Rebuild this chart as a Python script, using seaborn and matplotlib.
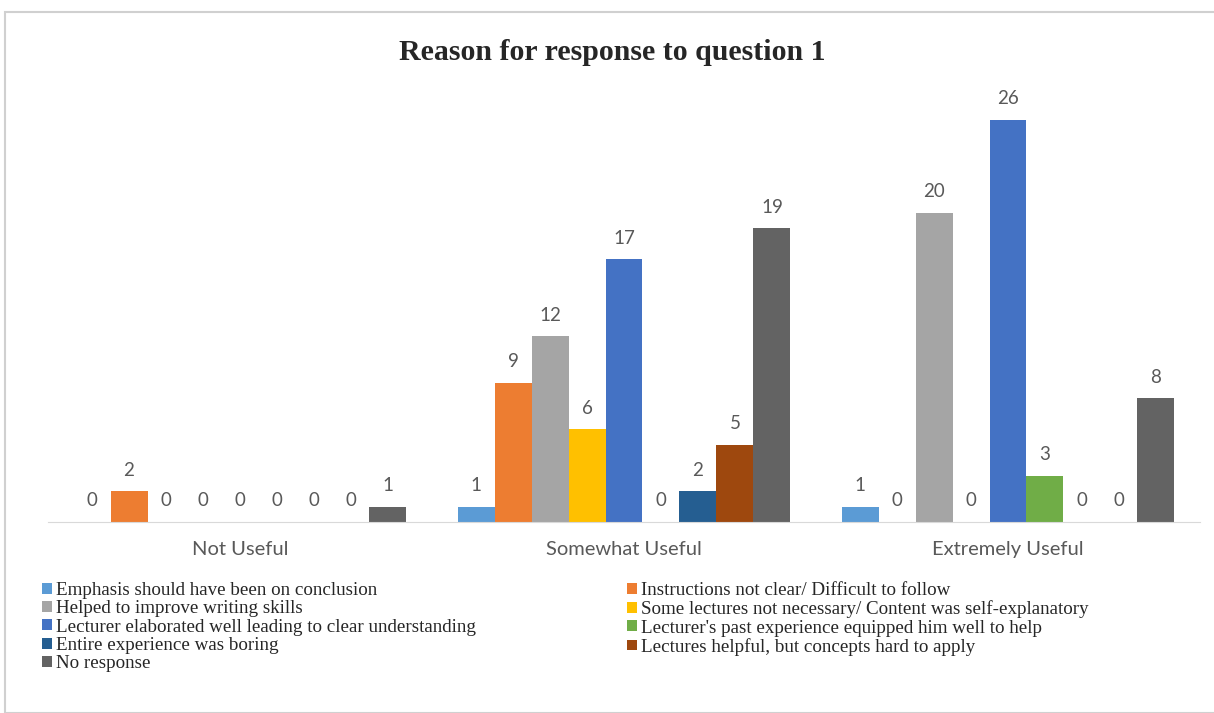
import matplotlib
matplotlib.use("Agg")
import matplotlib.pyplot as plt
import seaborn as sns
import pandas as pd
from matplotlib.patches import Patch, Rectangle

categories = ["Not Useful", "Somewhat Useful", "Extremely Useful"]
reasons = [
    "Emphasis should have been on conclusion",
    "Instructions not clear/ Difficult to follow",
    "Helped to improve writing skills",
    "Some lectures not necessary/ Content was self-explanatory",
    "Lecturer elaborated well leading to clear understanding",
    "Lecturer's past experience equipped him well to help",
    "Entire experience was boring",
    "Lectures helpful, but concepts hard to apply",
    "No response",
]
not_useful = [0, 2, 0, 0, 0, 0, 0, 0, 1]
somewhat_useful = [1, 9, 12, 6, 17, 0, 2, 5, 19]
extremely_useful = [1, 0, 20, 0, 26, 3, 0, 0, 8]
colors = ["#5B9BD5", "#ED7D31", "#A5A5A5", "#FFC000", "#4472C4",
          "#70AD47", "#255E91", "#9E480E", "#636363"]

rows = []
for cat, vals in zip(categories, [not_useful, somewhat_useful, extremely_useful]):
    for r, v in zip(reasons, vals):
        rows.append({"cat": cat, "reason": r, "value": v})
df = pd.DataFrame(rows)

sns.set_style("white")
fig = plt.figure(figsize=(12.14, 7.13), dpi=100)
fig.patches.append(Rectangle((5 / 1214, 0), 1.0, 1 - 12 / 713, transform=fig.transFigure,
                             fill=False, edgecolor="#D0D0D0", linewidth=1.5))
ax = fig.add_axes([48 / 1214, 191 / 713, 1152 / 1214, 433 / 713])
sns.barplot(data=df, x="cat", y="value", hue="reason", hue_order=reasons,
            order=categories, palette=colors, saturation=1, width=0.867,
            linewidth=0, ax=ax, legend=False)
ax.set_ylim(0, 28)
ax.set_xlim(-0.5, 2.5)
label_font = "Lato"
for cont in ax.containers:
    ax.bar_label(cont, padding=9, color="#595959", fontsize=13.5, family=label_font)
for s in ["top", "left", "right"]:
    ax.spines[s].set_visible(False)
ax.spines["bottom"].set_color("#D9D9D9")
ax.set_yticks([])
ax.set_xlabel("")
ax.set_ylabel("")
ax.tick_params(axis="x", length=0, pad=14, labelsize=14.5, labelcolor="#595959")
for t in ax.get_xticklabels():
    t.set_family(label_font)

fig.text(612 / 1214, 1 - 52 / 713, "Reason for response to question 1", ha="center", va="center",
         family="Liberation Serif", fontweight="bold", fontsize=21.5)

handles = [Patch(facecolor=c, edgecolor="none") for c in colors]
left_idx = [0, 2, 4, 6, 8]
right_idx = [1, 3, 5, 7]
common = dict(frameon=False, prop={"family": "Liberation Serif", "size": 13.7},
              handlelength=0.5, handleheight=0.5, handletextpad=0.25,
              labelspacing=0.07, borderaxespad=0, borderpad=0)
leg1 = fig.legend([handles[i] for i in left_idx], [reasons[i] for i in left_idx],
                  loc="upper left", bbox_to_anchor=(42 / 1214, 1 - 582 / 713), **common)
leg2 = fig.legend([handles[i] for i in right_idx], [reasons[i] for i in right_idx],
                  loc="upper left", bbox_to_anchor=(627 / 1214, 1 - 582 / 713), **common)

fig.savefig("out.png", dpi=100)
